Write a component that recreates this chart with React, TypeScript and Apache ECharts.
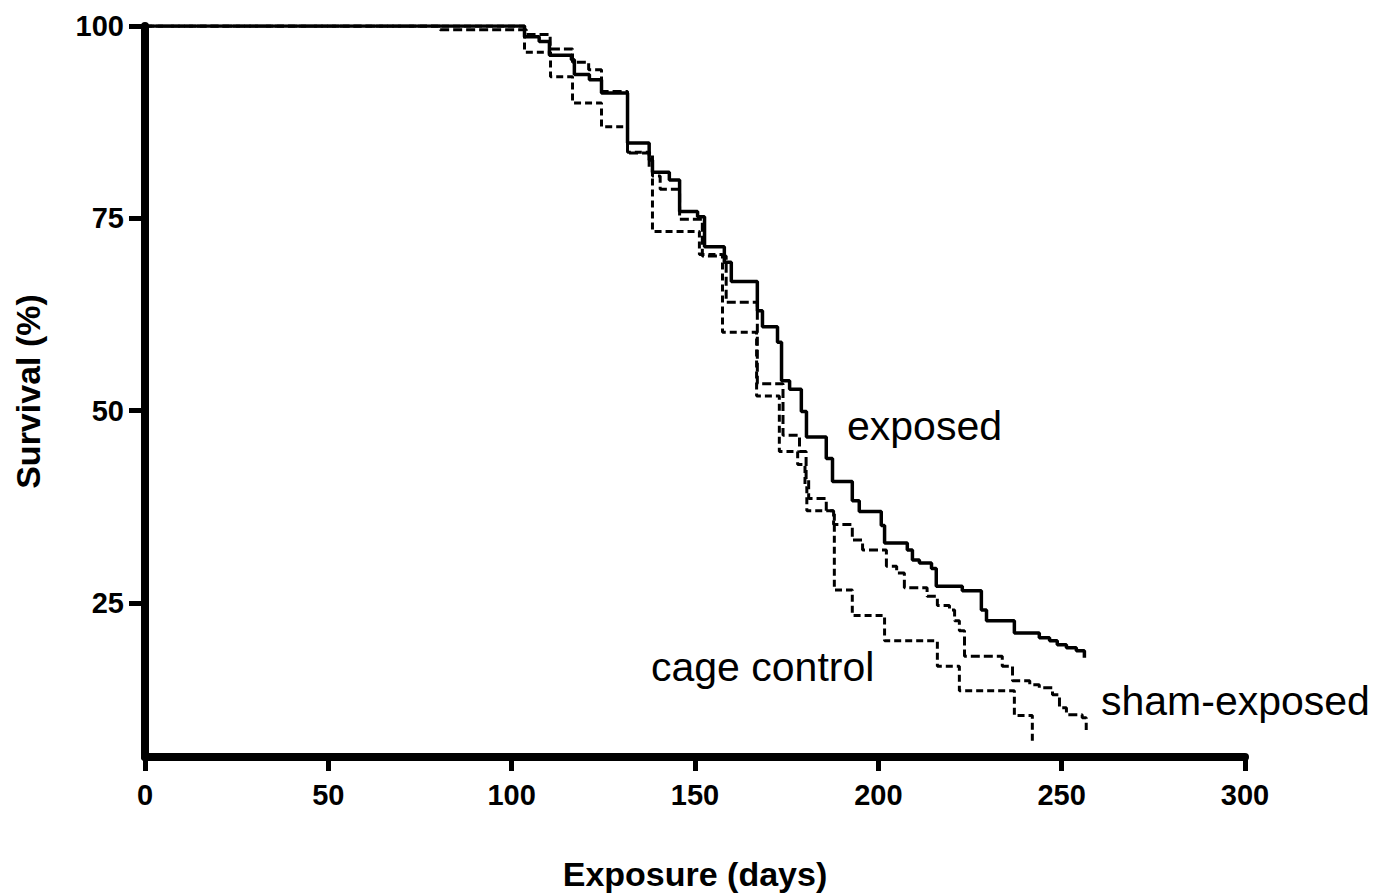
import React, { useEffect, useRef } from "react";
import * as echarts from "echarts";

// Kaplan-Meier style survival steps: [day, survival %]
const exposedSteps: [number, number][] = [
  [0, 100], [103.5, 98.6], [107.5, 98.0], [110.3, 96.2], [116.3, 95.6], [117.1, 93.7],
  [121.2, 93.0], [124.5, 91.3], [131.6, 84.8], [137.5, 82.6], [138.4, 81.0], [143.0, 80.0],
  [145.8, 75.9], [150.7, 75.2], [152.6, 71.3], [158.0, 69.3], [159.9, 66.8], [167.0, 63.0],
  [168.4, 60.9], [172.5, 58.9], [173.6, 53.9], [175.8, 52.8], [179.0, 49.9], [180.4, 46.6],
  [185.8, 43.8], [187.5, 40.8], [192.9, 38.3], [194.8, 36.9], [200.8, 35.1], [201.7, 32.8],
  [207.9, 31.9], [209.3, 30.6], [211.2, 30.2], [214.5, 29.5], [215.8, 27.2], [222.9, 26.6],
  [228.1, 24.1], [229.5, 22.7], [237.1, 21.1], [243.9, 20.5], [246.7, 20.1], [248.8, 19.6],
  [251.3, 19.2], [254.0, 18.8], [256.2, 17.9],
];

const shamSteps: [number, number][] = [
  [0, 100], [80.5, 99.5], [104.0, 98.9], [110.5, 97.0], [116.6, 95.3], [121.0, 94.3],
  [124.5, 91.5], [131.6, 83.5], [138.4, 80.5], [140.5, 78.8], [145.8, 74.9], [152.0, 70.1],
  [158.5, 64.1], [167.0, 53.5], [174.0, 46.8], [178.5, 44.7], [180.3, 41.0], [181.0, 38.6],
  [185.8, 37.0], [187.8, 35.2], [192.9, 33.2], [195.7, 31.9], [202.2, 29.8], [205.0, 28.9],
  [207.1, 27.0], [213.3, 25.9], [216.1, 24.7], [219.4, 24.1], [220.8, 22.7], [222.1, 21.4],
  [223.5, 18.1], [233.8, 16.8], [236.6, 14.9], [241.3, 14.4], [243.9, 14.0], [247.5, 13.1],
  [249.4, 11.4], [251.3, 10.5], [255.6, 10.1], [256.7, 8.5],
];

const cageSteps: [number, number][] = [
  [0, 100], [103.5, 96.6], [110.6, 93.4], [116.6, 90.0], [124.5, 86.9], [131.6, 83.6],
  [137.5, 81.5], [138.4, 73.3], [151.2, 70.3], [157.5, 60.2], [166.8, 51.9], [173.0, 44.7],
  [178.0, 43.0], [180.0, 40.0], [180.5, 37.0], [188.0, 26.7], [192.9, 23.4], [201.7, 20.1],
  [216.1, 16.8], [222.1, 13.6], [237.1, 10.4], [242.0, 7.1],
];

const yTickValues = [25, 50, 75, 100];
const seriesNames = ["exposed", "sham-exposed", "cage control"];

const FONT = "'Liberation Sans', Arial, Helvetica, sans-serif";

export default function App() {
  const ref = useRef<HTMLDivElement>(null);

  useEffect(() => {
    document.body.style.margin = "0";
    if (!ref.current) return;
    const chart = echarts.init(ref.current, null, { renderer: "svg" });

    const axisLabelStyle = {
      color: "#000",
      fontSize: 29,
      fontWeight: "bold" as const,
      fontFamily: FONT,
    };
    const nameStyle = {
      color: "#000",
      fontSize: 34,
      fontWeight: "bold" as const,
      fontFamily: FONT,
    };

    chart.setOption({
      animation: false,
      backgroundColor: "#fff",
      grid: { left: 145, right: 137, top: 26, bottom: 137, containLabel: false },
      xAxis: {
        type: "value",
        min: 0,
        max: 300,
        interval: 50,
        name: "Exposure (days)",
        nameLocation: "middle",
        nameGap: 100,
        nameTextStyle: nameStyle,
        axisLine: { show: true, onZero: false, lineStyle: { color: "#000", width: 8, cap: "round" } },
        axisTick: { show: true, length: 14, lineStyle: { color: "#000", width: 5 } },
        axisLabel: { ...axisLabelStyle, margin: 23 },
        splitLine: { show: false },
      },
      yAxis: {
        type: "value",
        min: 5,
        max: 100,
        name: "Survival (%)",
        nameLocation: "middle",
        nameRotate: 90,
        nameGap: 100,
        nameTextStyle: nameStyle,
        axisLine: { show: true, onZero: false, lineStyle: { color: "#000", width: 8, cap: "round" } },
        axisTick: { show: true, length: 16, customValues: yTickValues, lineStyle: { color: "#000", width: 5 } },
        axisLabel: { ...axisLabelStyle, margin: 21, customValues: yTickValues },
        splitLine: { show: false },
      },
      series: [
        {
          name: seriesNames[0],
          type: "line",
          step: "end",
          data: exposedSteps,
          showSymbol: false,
          lineStyle: { color: "#000", width: 3.5, type: "solid" },
          z: 3,
        },
        {
          name: seriesNames[1],
          type: "line",
          step: "end",
          data: shamSteps,
          showSymbol: false,
          lineStyle: { color: "#000", width: 3, type: [9, 4] },
          z: 2,
        },
        {
          name: seriesNames[2],
          type: "line",
          step: "end",
          data: cageSteps,
          showSymbol: false,
          lineStyle: { color: "#000", width: 3, type: [7, 4] },
          z: 2,
        },
      ],
      graphic: [
        {
          type: "text",
          x: 847,
          y: 426,
          style: { text: "exposed", fill: "#000", fontSize: 41, fontFamily: FONT, align: "left", verticalAlign: "middle" },
        },
        {
          type: "text",
          x: 651,
          y: 667,
          style: { text: "cage control", fill: "#000", fontSize: 41, fontFamily: FONT, align: "left", verticalAlign: "middle" },
        },
        {
          type: "text",
          x: 1101,
          y: 701,
          style: { text: "sham-exposed", fill: "#000", fontSize: 41, fontFamily: FONT, align: "left", verticalAlign: "middle" },
        },
      ],
    });

    return () => chart.dispose();
  }, []);

  return <div ref={ref} style={{ width: 1382, height: 896 }} />;
}
